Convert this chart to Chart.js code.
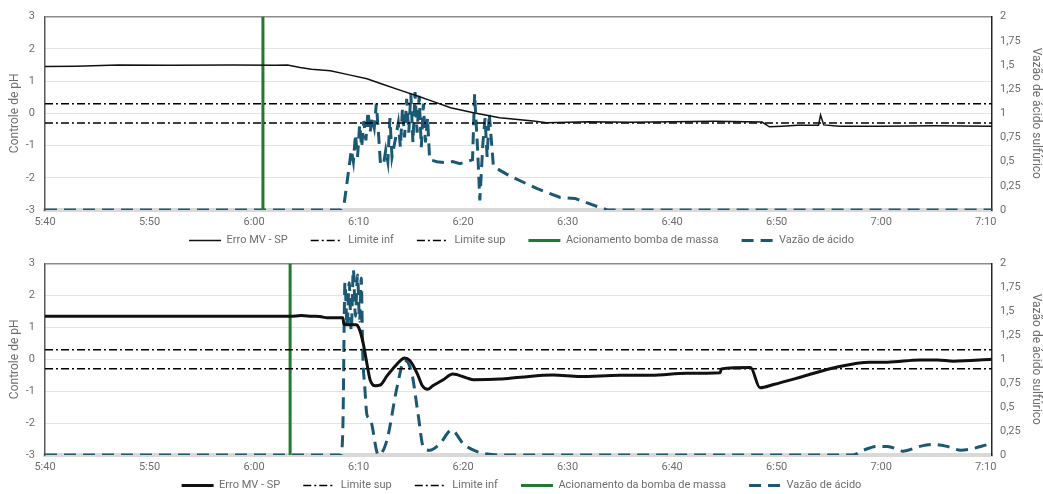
<!DOCTYPE html>
<html>
<head>
<meta charset="utf-8">
<script src="https://cdn.jsdelivr.net/npm/chart.js@4.4.1/dist/chart.umd.min.js"></script>
<style>
  html, body { margin: 0; padding: 0; background: #fff; }
  #wrap { position: relative; width: 1043px; height: 494px; overflow: hidden; }
  canvas { position: absolute; left: 0; }
  #chartTop { top: 0; }
  #chartBottom { top: 247px; }
</style>
</head>
<body>
<div id="wrap">
  <canvas id="chartTop" width="1043" height="247"></canvas>
  <canvas id="chartBottom" width="1043" height="247"></canvas>
</div>
<script>
// --- DATA (time = minutes after 5:40) ---
const xTickMinutes = [0, 10, 20, 30, 40, 50, 60, 70, 80, 90];
const xTickLabels = ['5:40', '5:50', '6:00', '6:10', '6:20', '6:30', '6:40', '6:50', '7:00', '7:10'];
const xMax = 90.6;

const limiteSup = 0.3;
const limiteInf = -0.3;

// top chart
const topPumpOn = 20.85;
const topErroT = [0, 3, 7, 12, 18, 22, 23.2, 24.4, 25.5, 27.3, 29, 30.8, 32.3, 33.95, 35.5, 37.1, 38.8, 41.0, 43.5, 46.7, 48, 52, 56, 60, 64, 68.6, 69.3, 70.5, 72, 74.0, 74.2, 74.5, 76, 80, 85, 90.6];
const topErroV = [1.45, 1.46, 1.5, 1.49, 1.5, 1.49, 1.5, 1.42, 1.37, 1.32, 1.2, 1.07, 0.9, 0.72, 0.55, 0.37, 0.17, 0.02, -0.14, -0.24, -0.29, -0.26, -0.28, -0.26, -0.25, -0.27, -0.42, -0.4, -0.37, -0.37, -0.05, -0.36, -0.4, -0.4, -0.39, -0.4];
const topVazaoT = [0, 28.3, 28.6, 29.1, 29.3, 29.5, 29.7, 29.9, 30.1, 30.3, 30.5, 30.7, 30.9, 31.1, 31.3, 31.5, 31.7, 31.9, 32.1, 32.4, 32.6, 32.8, 33.0, 33.2, 33.5, 33.8, 34.0, 34.2, 34.4, 34.6, 34.8, 35.0, 35.2, 35.4, 35.6, 35.8, 36.0, 36.2, 36.4, 36.6, 36.8, 37.5, 38.3, 39.0, 39.7, 40.4, 40.9, 41.1, 41.4, 41.6, 41.9, 42.1, 42.3, 42.5, 42.9, 44.5, 46.1, 47.1, 49.3, 50.7, 52.2, 53.8, 90.6];
const topVazaoV = [0, 0, 0.05, 0.45, 0.62, 0.5, 0.78, 0.55, 0.88, 0.65, 0.92, 0.72, 1.02, 0.8, 0.95, 0.85, 1.1, 0.8, 0.47, 0.48, 0.62, 0.5, 0.95, 0.55, 0.72, 0.9, 0.65, 1.05, 0.75, 1.15, 0.8, 1.2, 0.7, 1.22, 0.8, 1.18, 0.65, 1.1, 0.7, 0.95, 0.52, 0.5, 0.49, 0.5, 0.48, 0.5, 0.52, 1.2, 0.6, 0.1, 0.7, 0.95, 0.55, 1.0, 0.45, 0.35, 0.27, 0.22, 0.13, 0.12, 0.06, 0, 0];

// bottom chart
const botPumpOn = 23.45;
const botErroT = [0, 20, 23.5, 24.5, 25.5, 26.3, 27.0, 28.5, 28.6, 29.3, 29.8, 30.0, 30.4, 30.8, 31.1, 31.6, 32.1, 32.7, 33.3, 34.0, 34.4, 34.9, 35.6, 36.1, 36.6, 37.1, 38.1, 39.0, 40.4, 41.0, 43.5, 45.5, 48.6, 51.2, 55, 58, 61.4, 64.6, 64.7, 67.5, 68.4, 69.7, 72.5, 75.8, 78.9, 80.6, 83.7, 85.4, 86.9, 90.6];
const botErroV = [1.35, 1.35, 1.35, 1.37, 1.35, 1.34, 1.3, 1.3, 1.1, 1.08, 1.08, 1.0, 0.57, -0.14, -0.64, -0.83, -0.8, -0.53, -0.29, -0.04, 0.04, -0.04, -0.44, -0.83, -0.94, -0.83, -0.64, -0.46, -0.59, -0.64, -0.62, -0.56, -0.49, -0.54, -0.5, -0.5, -0.44, -0.42, -0.3, -0.26, -0.89, -0.79, -0.54, -0.24, -0.09, -0.09, -0.02, -0.02, -0.06, 0.0];
const botVazaoT = [0, 28.3, 28.5, 28.7, 28.9, 29.1, 29.3, 29.5, 29.7, 29.9, 30.1, 30.25, 30.4, 30.6, 30.8, 31.1, 31.9, 32.7, 33.7, 34.4, 35.1, 35.7, 36.2, 36.8, 37.8, 38.9, 40.0, 41.0, 42.3, 43.5, 77.3, 78.3, 79.6, 80.6, 82.1, 83.7, 85.0, 86.3, 87.6, 90.6];
const botVazaoV = [0, 0, 0.3, 1.8, 1.35, 1.8, 1.3, 1.94, 1.45, 1.88, 1.4, 1.85, 1.06, 0.7, 0.42, 0.38, 0, 0.15, 0.72, 0.99, 0.85, 0.42, 0.08, 0.05, 0.12, 0.26, 0.12, 0.05, 0.01, 0, 0, 0.05, 0.09, 0.09, 0.04, 0.09, 0.11, 0.09, 0.05, 0.12];

// --- STYLE ---
const TEXT = '#6e6e6e';
Chart.defaults.font.family = 'Roboto, "Liberation Sans", sans-serif';
Chart.defaults.font.size = 11;
Chart.defaults.color = TEXT;

const zip = (t, v) => t.map((x, i) => ({ x: x, y: v[i] }));
const hline = (y) => [{ x: 0, y: y }, { x: xMax, y: y }];
const commaFmt = (v) => String(v).replace('.', ',');

// legend line samples: take dash / width from the dataset line, not the point
function legendLabels(chart) {
    return Chart.defaults.plugins.legend.labels.generateLabels(chart).map(item => {
        const ds = chart.data.datasets[item.datasetIndex];
        item.lineDash = ds.borderDash || [];
        item.lineWidth = ds.borderWidth;
        item.strokeStyle = ds.borderColor;
        return item;
    });
}

// the legend sits closer to the tick labels than its item padding allows
const legendLift = {
    id: 'legendLift',
    afterLayout(chart) {
        const lg = chart.legend;
        lg.top -= 20;
        lg.height = 50;
        lg.bottom = lg.top + lg.height;
    }
};

function limitDataset(label, y) {
    return {
        label: label, data: hline(y), yAxisID: 'y',
        borderColor: '#000', borderWidth: 1.5, borderDash: [8, 3, 2, 3],
        pointRadius: 0
    };
}

function makeChart(id, c) {
    const limits = c.supFirst
        ? [limitDataset('Limite sup', limiteSup), limitDataset('Limite inf', limiteInf)]
        : [limitDataset('Limite inf', limiteInf), limitDataset('Limite sup', limiteSup)];

    return new Chart(document.getElementById(id), {
        type: 'line',
        plugins: [legendLift],
        data: {
            datasets: [
                {
                    label: 'Erro MV - SP', data: zip(c.erroT, c.erroV), yAxisID: 'y',
                    borderColor: '#111', borderWidth: c.erroWidth, pointRadius: 0,
                    cubicInterpolationMode: c.smooth ? 'monotone' : 'default'
                },
                ...limits,
                {
                    label: c.pumpLabel, data: [{ x: c.pumpOn, y: -3 }, { x: c.pumpOn, y: 3 }], yAxisID: 'y',
                    borderColor: '#217a32', borderWidth: 3, pointRadius: 0
                },
                {
                    label: 'Vazão de ácido', data: zip(c.vazT, c.vazV), yAxisID: 'y1',
                    borderColor: '#1b5873', borderWidth: 3, borderDash: [12, 7], pointRadius: 0,
                    cubicInterpolationMode: c.smooth ? 'monotone' : 'default'
                }
            ]
        },
        options: {
            responsive: false,
            animation: false,
            devicePixelRatio: 1,
            layout: { padding: { top: c.padTop, bottom: 0, left: 0, right: 0 } },
            plugins: {
                tooltip: { enabled: false },
                legend: {
                    position: 'bottom',
                    maxHeight: c.legendH,
                    labels: {
                        usePointStyle: true, pointStyle: 'line', pointStyleWidth: 32,
                        boxHeight: 11, padding: 23, color: TEXT, font: { size: 11 },
                        generateLabels: legendLabels
                    }
                }
            },
            scales: {
                x: {
                    type: 'linear', min: 0, max: xMax,
                    afterBuildTicks: (s) => { s.ticks = xTickMinutes.map(v => ({ value: v })); },
                    afterFit: (s) => { s.height = 22; },
                    ticks: {
                        autoSkip: false, maxRotation: 0, padding: 6,
                        callback: (v) => xTickLabels[xTickMinutes.indexOf(v)]
                    },
                    grid: { display: false, drawTicks: false },
                    border: { display: true, color: '#d9d9d9', width: 4 }
                },
                y: {
                    position: 'left', min: -3, max: 3,
                    afterFit: (s) => { s.width = 45; },
                    ticks: { stepSize: 1, padding: 10 },
                    grid: {
                        drawTicks: false,
                        color: (ctx) => ctx.tick && ctx.tick.value === 3 ? '#8c8c8c' : '#e3e3e3',
                        lineWidth: (ctx) => ctx.tick && ctx.tick.value === 3 ? 1.5 : 1
                    },
                    border: { color: '#595959', width: 1.5 },
                    title: { display: true, text: 'Controle de pH', color: TEXT, font: { size: 12 }, padding: { top: 8, bottom: 0 } }
                },
                y1: {
                    position: 'right', min: 0, max: 2,
                    afterFit: (s) => { s.width = 51; },
                    ticks: { stepSize: 0.25, padding: 8, callback: commaFmt },
                    grid: { display: false, drawTicks: false },
                    border: { color: '#262626', width: 1.5 },
                    title: { display: true, text: 'Vazão de ácido sulfúrico', color: TEXT, font: { size: 12 }, padding: { top: 0, bottom: 0 } }
                }
            }
        }
    });
}

makeChart('chartTop', {
    padTop: 11, legendH: 15, erroT: topErroT, erroV: topErroV, erroWidth: 1.5, smooth: false,
    vazT: topVazaoT, vazV: topVazaoV, pumpOn: topPumpOn, pumpLabel: 'Acionamento bomba de massa', supFirst: false
});

makeChart('chartBottom', {
    padTop: 9, legendH: 17, erroT: botErroT, erroV: botErroV, erroWidth: 3, smooth: true,
    vazT: botVazaoT, vazV: botVazaoV, pumpOn: botPumpOn, pumpLabel: 'Acionamento da bomba de massa', supFirst: true
});
</script>
</body>
</html>
